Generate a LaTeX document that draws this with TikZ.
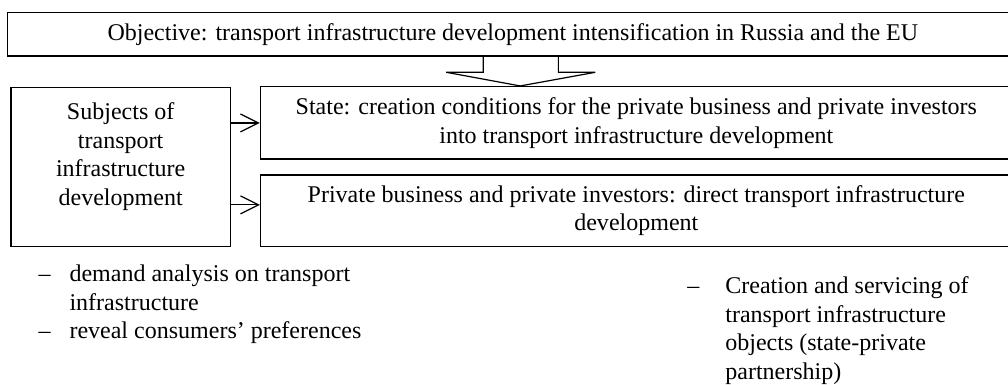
\documentclass[tikz,border=0pt]{standalone}
\usepackage{fontspec}
\setmainfont{Liberation Serif}
\usepackage{tikz}
\usetikzlibrary{arrows.meta}

\begin{document}
\begin{tikzpicture}
        % Define styles
        \tikzset{
            every node/.style={font=\fontsize{12pt}{14.25pt}\selectfont},
            box/.style={rectangle, draw, line width=0.6pt, inner sep=0pt},
            arrow/.style={-{Straight Barb[length=9pt,width=9pt]}, line width=0.6pt},
            hollow/.style={draw, line width=0.6pt},
            items/.style={anchor=north west, align=left, inner sep=0pt}
        }

        \useasboundingbox (0,0) rectangle (17.71,6.75);

        % Nodes
        \node[box, minimum width=17.75cm, minimum height=0.77cm] (objective) at (9.01,6.15) {Objective: transport infrastructure development intensification in Russia and the EU};
        \node[box, minimum width=3.85cm, minimum height=2.79cm] (subjects) at (2.12,3.82) {\parbox[c][2.79cm][t]{3.85cm}{\centering\vspace*{7.8pt}Subjects of\\ transport\\ infrastructure\\ development}};
        \node[box, minimum width=13.21cm, minimum height=1.27cm, align=center] (state) at (11.18,4.59) {State: creation conditions for the private business and private investors\\ into transport infrastructure development};
        \node[box, minimum width=13.21cm, minimum height=1.25cm, align=center] (private) at (11.18,3.05) {Private business and private investors: direct transport infrastructure\\ development};
        \coordinate (privin) at ([yshift=0.1cm]private.west);

        % Lists
        \node[items] (stateitems) at (0.67,2.10) {\makebox[15.5pt][l]{–}demand analysis on transport\\ \hspace*{15.5pt}infrastructure\\ \makebox[15.5pt][l]{–}reveal consumers’ preferences};
        \node[items] (privateitems) at (12.07,1.89) {\makebox[19pt][l]{–}Creation and servicing of\\ \hspace*{19pt}transport infrastructure\\ \hspace*{19pt}objects (state-private\\ \hspace*{19pt}partnership)};

        % Arrows
        \draw[hollow] (8.49,5.765) -- (8.49,5.48) -- (7.84,5.48) -- (9.14,5.24) -- (10.46,5.48) -- (9.81,5.48) -- (9.81,5.765);
        \draw[arrow] (subjects.east |- state.west) -- (state.west);
        \draw[arrow] (subjects.east |- privin) -- (privin);
    \end{tikzpicture}
\end{document}
